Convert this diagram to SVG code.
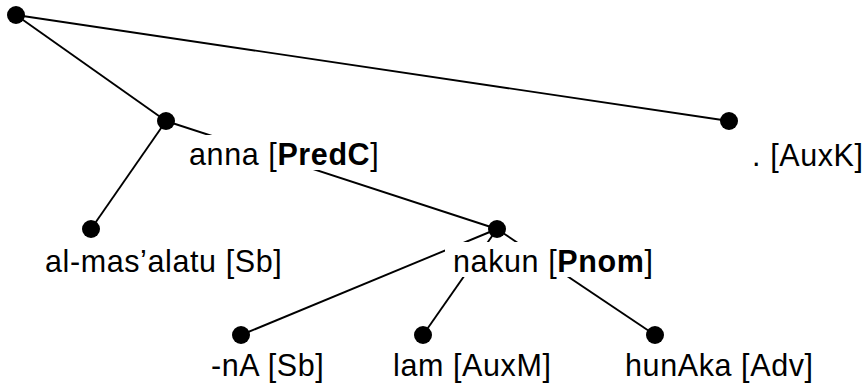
<svg xmlns="http://www.w3.org/2000/svg" width="866" height="387" viewBox="0 0 866 387">
<style>
.edge{stroke:#000;stroke-width:1.9;fill:none}
.dot{fill:#000}
.bg{fill:#fff}
.lbl{font-family:"Liberation Sans",Arial,sans-serif;font-size:30.5px;fill:#000;letter-spacing:0.6px}
.b{font-weight:bold}
</style>
<rect width="866" height="387" fill="#fff"/>
<g id="connectors">
<line class="edge" x1="16" y1="15" x2="166" y2="121"/>
<line class="edge" x1="16" y1="15" x2="729" y2="121"/>
<line class="edge" x1="166" y1="121" x2="91" y2="229"/>
<line class="edge" x1="166" y1="121" x2="497" y2="229"/>
<line class="edge" x1="497" y1="229" x2="241" y2="335"/>
<line class="edge" x1="497" y1="229" x2="423" y2="335"/>
<line class="edge" x1="497" y1="229" x2="655" y2="335"/>
</g>
<g id="root">
<circle class="dot" cx="16" cy="15" r="9"/>
</g>
<g id="anna">
<rect class="bg" x="180" y="135" width="205" height="35"/>
<circle class="dot" cx="166" cy="121" r="9"/>
<text class="lbl" x="189" y="165">anna [<tspan class="b">PredC</tspan>]</text>
</g>
<g id="auxk">
<circle class="dot" cx="729" cy="121" r="9"/>
<text class="lbl" x="752" y="166">. [AuxK]</text>
</g>
<g id="almasalatu">
<circle class="dot" cx="91" cy="229" r="9"/>
<text class="lbl" x="45" y="272">al-mas’alatu [Sb]</text>
</g>
<g id="nakun">
<rect class="bg" x="445" y="242" width="220" height="35"/>
<circle class="dot" cx="497" cy="229" r="9"/>
<text class="lbl" x="453" y="272">nakun [<tspan class="b">Pnom</tspan>]</text>
</g>
<g id="na">
<circle class="dot" cx="241" cy="335" r="9"/>
<text class="lbl" x="211" y="376">-nA [Sb]</text>
</g>
<g id="lam">
<circle class="dot" cx="423" cy="335" r="9"/>
<text class="lbl" x="393" y="376">lam [AuxM]</text>
</g>
<g id="hunaka">
<circle class="dot" cx="655" cy="335" r="9"/>
<text class="lbl" x="625" y="376">hunAka [Adv]</text>
</g>
</svg>
